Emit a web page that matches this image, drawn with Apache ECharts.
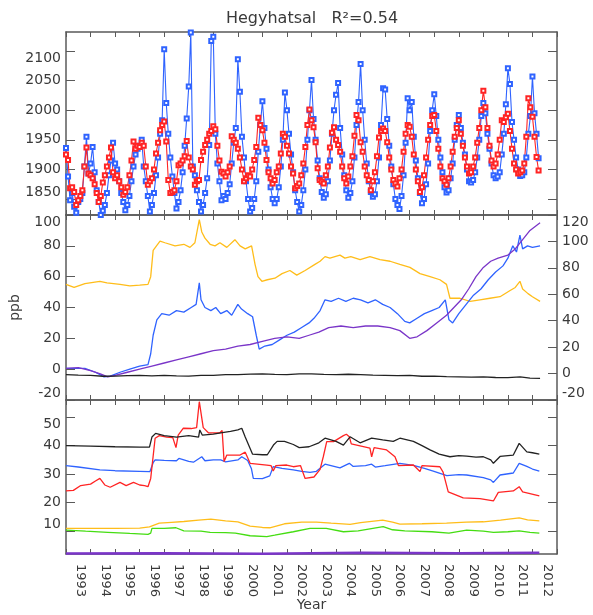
<!DOCTYPE html>
<html><head><meta charset="utf-8">
<script src="https://cdn.jsdelivr.net/npm/echarts@6/dist/echarts.min.js"></script>
<style>html,body{margin:0;padding:0;background:#fff}#c{width:593px;height:615px}</style>
</head><body><div id="c"></div>
<script>
// ---------- data ----------
const titleText = 'Hegyhatsal   R\u00b2=0.54';
const startYear = 1992;            // first monthly value = Jan 1992
const yearTicks = [1993,1994,1995,1996,1997,1998,1999,2000,2001,2002,2003,2004,2005,2006,2007,2008,2009,2010,2011,2012];
const topTicks = [1850,1900,1950,2000,2050,2100];
const botTicks = [10,20,30,40,50];

// top panel: monthly CH4 (blue = observed, red = model)
const blueMonthly = [
1936,1888,1848,1860,1837,1827,1845,1850,1860,1905,1955,1893,
1910,1938,1895,1865,1845,1823,1830,1840,1860,1890,1915,1945,
1910,1900,1880,1860,1845,1831,1840,1855,1880,1905,1925,1935,
1940,1950,1905,1880,1855,1829,1840,1860,1890,1920,1960,1983,
2103,2012,1960,1920,1888,1860,1834,1845,1865,1895,1940,1986,
2040,2131,1905,1890,1865,1845,1829,1840,1860,1885,1941,2117,
2124,1960,1910,1880,1848,1855,1850,1860,1875,1910,1945,1970,
2086,2031,1955,1920,1880,1850,1829,1835,1850,1880,1930,1975,
2015,1970,1935,1900,1870,1850,1843,1850,1870,1905,1950,2030,
2000,1960,1925,1895,1865,1845,1829,1840,1865,1900,1950,2000,
2051,1985,1950,1915,1885,1862,1852,1858,1880,1915,1960,2000,
2026,2046,1970,1925,1890,1865,1852,1860,1880,1920,1975,2014,
2078,2000,1950,1910,1880,1862,1854,1858,1880,1920,1975,2037,
2035,1985,1940,1905,1875,1850,1840,1833,1855,1890,1945,2020,
2000,2014,1955,1915,1885,1860,1843,1850,1875,1910,1965,2000,
2027,1990,1950,1920,1895,1870,1861,1865,1885,1910,1950,1975,
1992,1970,1945,1925,1900,1880,1878,1882,1895,1920,1950,1990,
2012,1995,1960,1935,1910,1890,1885,1888,1895,1925,1960,2010,
2071,2044,1980,1950,1920,1900,1889,1890,1895,1920,1960,1990,
2057,1995,1960,1919];
const redMonthly = [
1925,1916,1868,1870,1862,1840,1848,1855,1865,1905,1937,1893,
1890,1885,1875,1860,1845,1855,1878,1890,1905,1920,1937,1895,
1885,1890,1880,1870,1857,1862,1870,1890,1915,1947,1935,1940,
1938,1945,1940,1905,1874,1880,1885,1900,1927,1945,1966,1975,
1981,1947,1882,1860,1862,1865,1880,1907,1910,1915,1922,1948,
1920,1905,1900,1874,1880,1882,1916,1930,1941,1950,1960,1965,
1973,1968,1940,1915,1896,1893,1888,1895,1905,1956,1950,1945,
1935,1920,1900,1880,1885,1890,1888,1900,1916,1938,1987,1975,
1966,1945,1916,1895,1885,1876,1882,1895,1905,1927,1960,1955,
1940,1927,1905,1893,1868,1872,1876,1890,1910,1938,1975,2001,
1983,1971,1946,1902,1882,1879,1876,1890,1905,1937,1962,1971,
1950,1941,1930,1905,1885,1876,1888,1905,1922,1957,1992,1983,
1946,1930,1905,1890,1882,1865,1880,1895,1922,1954,1965,1969,
1965,1946,1920,1900,1882,1876,1871,1885,1900,1930,1960,1975,
1972,1955,1925,1900,1880,1862,1870,1890,1920,1950,1975,1990,
1992,1965,1935,1905,1885,1880,1874,1885,1905,1930,1955,1970,
1983,1960,1940,1920,1905,1893,1895,1905,1920,1945,1970,2000,
2033,2005,1970,1940,1915,1905,1910,1925,1950,1983,1980,1988,
1994,1965,1935,1910,1900,1893,1895,1898,1910,1955,2020,2005,
1989,1955,1921,1898];

// middle panel (ppb), [year, value]
const midYellow = [[1992.0,55],[1992.33,53],[1992.77,55.5],[1993.38,57],[1993.67,56],[1994.2,55],[1994.6,54],[1995.0,54.5],[1995.34,55],[1995.45,60],[1995.55,77],[1995.83,83],[1996.03,82],[1996.44,80],[1996.8,81],[1997.05,79],[1997.25,82],[1997.43,97],[1997.53,89],[1997.66,85],[1997.87,81],[1998.07,80],[1998.27,82],[1998.55,79],[1998.88,84],[1999.09,80],[1999.3,78],[1999.56,80],[1999.7,68],[1999.82,60],[1999.98,57],[2000.2,58],[2000.51,59],[2000.8,62],[2001.12,64],[2001.4,61],[2001.74,64],[2002.14,68],[2002.35,70],[2002.55,73],[2002.75,72],[2003.16,74],[2003.36,72],[2003.6,73],[2003.98,71],[2004.38,73],[2004.79,71],[2005.2,70],[2005.6,68],[2006.01,66],[2006.42,62],[2006.83,60],[2007.23,58],[2007.5,55],[2007.64,46],[2008.05,46],[2008.46,44],[2008.86,45],[2009.27,46],[2009.68,47],[2010.09,51],[2010.3,53],[2010.49,57],[2010.6,52],[2010.82,49],[2011.0,47],[2011.31,44]];
const midBlue = [[1992.0,0.5],[1992.4,0.5],[1992.77,0.5],[1993.2,-2],[1993.55,-5],[1993.8,-4.5],[1994.2,-2],[1994.6,0],[1995.0,2],[1995.34,3],[1995.45,10],[1995.55,22],[1995.7,32],[1995.9,36],[1996.2,35],[1996.5,38],[1996.8,37],[1997.1,40],[1997.3,42],[1997.43,56],[1997.5,45],[1997.66,40],[1997.9,38],[1998.1,40],[1998.3,36],[1998.55,38],[1998.75,35],[1999.0,42],[1999.15,39],[1999.4,36],[1999.6,34],[1999.75,22],[1999.87,13],[2000.1,15],[2000.4,16],[2000.7,19],[2001.0,22],[2001.3,24],[2001.6,27],[2001.9,30],[2002.1,33],[2002.35,38],[2002.55,45],[2002.8,44],[2003.1,46],[2003.4,44],[2003.7,46],[2004.0,45],[2004.3,43],[2004.6,45],[2004.9,42],[2005.2,40],[2005.5,36],[2005.8,31],[2006.0,30],[2006.3,33],[2006.6,36],[2006.9,38],[2007.2,40],[2007.45,45],[2007.6,32],[2007.75,30],[2008.0,36],[2008.3,42],[2008.6,48],[2008.9,52],[2009.2,58],[2009.5,63],[2009.8,67],[2010.0,72],[2010.2,80],[2010.35,76],[2010.49,87],[2010.6,78],[2010.8,80],[2011.0,79],[2011.31,80]];
const midPurple = [[1992.0,0.5],[1992.5,1],[1993.0,-1],[1993.4,-3],[1993.7,-5],[1994.0,-4],[1994.5,-2],[1995.0,0],[1995.5,2],[1996.0,4],[1996.5,6],[1997.0,8],[1997.5,10],[1998.0,12],[1998.5,13],[1999.0,15],[1999.5,16],[2000.0,18],[2000.5,20],[2001.0,21],[2001.5,20],[2001.9,22],[2002.3,24],[2002.7,27],[2003.2,28],[2003.7,27],[2004.2,28],[2004.7,28],[2005.2,27],[2005.6,25],[2006.0,20],[2006.3,21],[2006.7,25],[2007.1,30],[2007.5,35],[2007.8,40],[2008.1,45],[2008.4,52],[2008.7,60],[2009.0,66],[2009.3,70],[2009.6,72],[2010.0,74],[2010.3,78],[2010.6,84],[2010.9,90],[2011.31,95]];
const midBlack = [[1992.0,-3.5],[1992.5,-3.8],[1993.0,-4],[1993.5,-4.6],[1994.0,-4.5],[1994.5,-4.2],[1995.0,-4],[1995.5,-4.3],[1996.0,-4],[1996.5,-4.4],[1997.0,-4.5],[1997.5,-4],[1998.0,-4],[1998.5,-3.6],[1999.0,-3.5],[1999.5,-3.2],[2000.0,-3],[2000.5,-3.4],[2001.0,-3.5],[2001.5,-3],[2002.0,-3],[2002.5,-3.4],[2003.0,-3.5],[2003.5,-3.3],[2004.0,-3.5],[2004.5,-3.8],[2005.0,-4],[2005.5,-4.2],[2006.0,-4],[2006.5,-4.6],[2007.0,-4.5],[2007.5,-4.8],[2008.0,-5],[2008.5,-5.2],[2009.0,-5],[2009.5,-5.4],[2010.0,-5.5],[2010.5,-5],[2010.9,-5.8],[2011.31,-6]];

// bottom panel, [year, value]
const botBlack = [[1992.0,40],[1993.0,39.8],[1994.0,39.6],[1995.0,39.5],[1995.4,39.5],[1995.5,43],[1995.65,44.3],[1996.0,43.5],[1996.5,43],[1997.0,43.5],[1997.4,43],[1997.45,45.5],[1997.55,43.7],[1998.0,44],[1998.3,44.5],[1998.7,45],[1999.0,45.5],[1999.16,46.1],[1999.3,43],[1999.5,39],[1999.6,37],[2000.0,36.8],[2000.2,36.8],[2000.45,40.2],[2000.6,41.5],[2000.9,41.5],[2001.26,40.4],[2001.5,39.3],[2001.9,39.6],[2002.3,41],[2002.55,42.6],[2003.0,41.5],[2003.3,40.2],[2003.57,43.1],[2003.98,41],[2004.45,42.6],[2004.9,42],[2005.33,41.5],[2005.6,42.6],[2006.15,41.5],[2006.5,40],[2006.83,38.5],[2007.2,37],[2007.64,36.1],[2008.0,36.5],[2008.32,36.3],[2008.7,36],[2009.0,36.1],[2009.3,35],[2009.41,33.8],[2009.68,36.2],[2010.22,36.7],[2010.46,40.8],[2010.77,37.8],[2011.0,37.5],[2011.28,37.0]];
const botBlue = [[1992.0,33],[1992.5,32.5],[1993.38,31.5],[1994.0,31.2],[1995.0,31],[1995.42,30.9],[1995.55,34],[1995.63,35],[1996.0,34.8],[1996.5,34.7],[1996.6,35.5],[1997.0,34.5],[1997.19,34.2],[1997.53,36.1],[1997.66,34.7],[1998.0,35],[1998.3,35],[1998.5,34.3],[1999.0,35],[1999.16,36.1],[1999.4,34.8],[1999.55,32],[1999.63,28.5],[2000.0,28.4],[2000.3,29.4],[2000.44,32.6],[2000.8,32],[2001.26,31.5],[2001.6,31],[2001.94,30.6],[2002.2,31],[2002.55,33.5],[2003.16,32.2],[2003.54,33.8],[2003.7,32.7],[2004.2,33],[2004.45,33.5],[2004.6,32.5],[2005.0,33],[2005.6,33.8],[2006.15,33.1],[2006.6,32],[2006.96,31.1],[2007.51,29.5],[2008.0,29.8],[2008.32,29.7],[2009.0,28.8],[2009.3,28],[2009.41,27.1],[2009.68,29.7],[2010.22,30.4],[2010.46,33.8],[2010.77,32.7],[2011.0,31.8],[2011.28,31.1]];
const botRed = [[1992.0,24.1],[1992.3,24.3],[1992.6,26],[1993.0,26.5],[1993.2,27.6],[1993.38,28.5],[1993.58,26.2],[1993.8,25.4],[1994.2,27.1],[1994.45,26],[1994.75,27.1],[1995.0,26.2],[1995.2,26],[1995.34,25.6],[1995.45,28.5],[1995.63,42.6],[1995.8,43.5],[1996.1,43],[1996.35,42.8],[1996.48,39.3],[1996.57,43.7],[1996.78,46.1],[1997.1,46],[1997.32,46.3],[1997.43,55.4],[1997.48,55],[1997.59,46.3],[1997.8,44.5],[1998.27,44.5],[1998.36,45.3],[1998.44,34.4],[1998.55,36.7],[1999.09,36.7],[1999.3,37.7],[1999.5,33.8],[2000.18,33.2],[2000.35,33],[2000.44,31.1],[2000.55,33],[2000.99,33.2],[2001.26,32.6],[2001.55,33],[2001.74,28.5],[2001.8,28.1],[2002.1,29],[2002.35,31.7],[2002.48,36.1],[2002.62,41.4],[2002.9,41.4],[2003.3,43.5],[2003.42,44],[2003.54,43.1],[2003.62,40.6],[2004.38,39.1],[2004.45,36.1],[2004.55,39.3],[2005.06,38.5],[2005.4,36.1],[2005.54,33],[2006.15,33.2],[2006.42,30.9],[2006.5,33],[2007.23,32.6],[2007.36,30.7],[2007.57,23.8],[2008.18,21.7],[2008.86,21.4],[2009.41,20.6],[2009.61,23.6],[2010.22,24.1],[2010.46,25.6],[2010.6,23.8],[2011.28,22.4]];
const botYellow = [[1992.0,11.0],[1993.0,11.0],[1994.0,11.0],[1995.0,11.1],[1995.4,11.5],[1995.8,12.8],[1996.3,13.1],[1996.8,13.4],[1997.4,13.9],[1997.9,14.2],[1998.5,13.6],[1999.0,13.3],[1999.5,11.8],[2000.0,11.3],[2000.3,11.2],[2000.9,12.6],[2001.6,13.2],[2002.2,13.2],[2002.8,12.8],[2003.57,12.4],[2004.0,13],[2004.9,13.9],[2005.3,13.2],[2005.6,12.5],[2006.5,12.6],[2007.5,12.8],[2008.3,13.2],[2009.0,13.3],[2009.7,13.9],[2010.46,14.7],[2010.8,14],[2011.28,13.6]];
const botGreen = [[1992.0,10.4],[1992.8,10],[1993.7,9.6],[1994.6,9.2],[1995.34,8.9],[1995.45,9.3],[1995.5,11.0],[1996.0,11],[1996.48,11.2],[1996.8,10.1],[1997.5,10],[1997.87,9.6],[1998.5,9.5],[1998.9,9.3],[1999.5,8.4],[2000.18,8.1],[2000.5,8.6],[2001.26,9.8],[2001.94,11.0],[2002.6,11.0],[2003.3,9.8],[2003.9,10.1],[2004.5,11],[2004.92,11.6],[2005.3,10.5],[2005.8,10.1],[2006.9,9.8],[2007.6,9.3],[2008.32,10.4],[2009.0,10],[2009.41,9.6],[2010.0,9.8],[2010.46,10.1],[2010.9,9.6],[2011.28,9.3]];
const botPurple = [[1992.0,2.2],[1996.0,2.3],[2000.0,2.1],[2004.0,2.4],[2008.0,2.3],[2011.28,2.4]];

// ---------- chart ----------
const FONT = 'DejaVu Sans';
const TXT = '#3a3a3a';
const AX = '#5a5a5a';
const C = {blue:'#2f63ff', red:'#ff2424', yellow:'#ffbd1a', purple:'#7a35c8', green:'#45dd12', black:'#222222'};

const monthly = arr => arr.map((v, i) => [startYear + i / 12, v]);

const grids = [
  {left:66, right:36, top:32, height:183},
  {left:66, right:36, top:215, height:185},
  {left:66, right:36, top:400, height:154},
  // label-only grid: year labels sit ~10px left of their ticks in the reference
  {left:56, right:46, top:400, height:154}
];

const axisLine = {show:true, onZero:false, lineStyle:{color:AX, width:1.5}};
const xAxes = [];
[0,1,2].forEach(gi => {
  ['bottom','top'].forEach(pos => {
    const named = gi === 2 && pos === 'bottom';
    xAxes.push({
      type:'value', gridIndex:gi, position:pos, min:1992, max:2012, interval:1,
      axisLine, splitLine:{show:false},
      axisTick:{show:true, inside:true, length:5, lineStyle:{color:AX, width:1}},
      axisLabel:{show:false},
      name: named ? 'Year' : '', nameLocation:'middle', nameGap:44,
      nameTextStyle:{fontFamily:FONT, fontSize:14, color:TXT}
    });
  });
});
xAxes.push({
  type:'value', gridIndex:3, position:'bottom', min:1992, max:2012, interval:1,
  axisLine:{show:false}, axisTick:{show:false}, splitLine:{show:false},
  axisLabel:{show:true, rotate:-90, margin:10, fontFamily:FONT, fontSize:13, color:TXT,
    formatter: v => yearTicks.indexOf(v) >= 0 ? String(v) : ''}
});

const yTick = {show:true, inside:true, length:9, lineStyle:{color:AX, width:1}};
const yLab = (show) => ({show, fontFamily:FONT, fontSize:14, color:TXT, margin:5,
  formatter: v => String(v),
  verticalAlignMaxLabel:'top', verticalAlignMinLabel:'bottom'});
const yAxes = [
  {type:'value', gridIndex:0, position:'left', min:1823, max:2132, axisLine, splitLine:{show:false},
   axisTick:Object.assign({}, yTick, {customValues:topTicks}), axisLabel:Object.assign(yLab(true), {customValues:topTicks})},
  {type:'value', gridIndex:0, position:'right', min:1823, max:2132, axisLine, splitLine:{show:false},
   axisTick:Object.assign({}, yTick, {customValues:topTicks}), axisLabel:{show:false}},
  {type:'value', gridIndex:1, position:'left', min:-20, max:100, interval:20, axisLine, splitLine:{show:false},
   axisTick:yTick, axisLabel:yLab(true),
   name:'ppb', nameLocation:'middle', nameRotate:90, nameGap:44,
   nameTextStyle:{fontFamily:FONT, fontSize:14, color:TXT}},
  {type:'value', gridIndex:1, position:'right', min:-20, max:120, interval:20, axisLine, splitLine:{show:false},
   axisTick:yTick, axisLabel:yLab(true)},
  {type:'value', gridIndex:2, position:'left', min:2, max:56, axisLine, splitLine:{show:false},
   axisTick:Object.assign({}, yTick, {customValues:botTicks}), axisLabel:Object.assign(yLab(true), {customValues:botTicks})},
  {type:'value', gridIndex:2, position:'right', min:2, max:56, axisLine, splitLine:{show:false},
   axisTick:Object.assign({}, yTick, {customValues:botTicks}), axisLabel:{show:false}},
  {type:'value', gridIndex:3, min:0, max:1, show:false}
];

function line(data, color, xi, yi, opts) {
  return Object.assign({
    type:'line', data, xAxisIndex:xi, yAxisIndex:yi, showSymbol:false, symbol:'none',
    lineStyle:{color, width:1.3}, itemStyle:{color}, animation:false, silent:true, z:2
  }, opts || {});
}
const markerOpts = (color) => ({showSymbol:true, symbol:'emptyRect', symbolSize:4,
  itemStyle:{color, borderColor:color, borderWidth:1}, lineStyle:{color, width:1.1}});

const series = [
  line(monthly(blueMonthly), C.blue, 0, 0, markerOpts(C.blue)),
  line(monthly(redMonthly), C.red, 0, 0, markerOpts(C.red)),
  line(midYellow, C.yellow, 2, 2),
  line(midBlue, C.blue, 2, 2),
  line(midPurple, C.purple, 2, 2),
  line(midBlack, C.black, 2, 2),
  line(botPurple, C.purple, 4, 4, {lineStyle:{color:C.purple, width:2.5}}),
  line(botGreen, C.green, 4, 4),
  line(botYellow, C.yellow, 4, 4),
  line(botBlue, C.blue, 4, 4),
  line(botRed, C.red, 4, 4),
  line(botBlack, C.black, 4, 4)
];

const chart = echarts.init(document.getElementById('c'), null, {renderer:'canvas'});
chart.setOption({
  animation:false,
  backgroundColor:'#ffffff',
  title:{text:titleText, left:312, top:11, padding:0, textAlign:'center',
    textStyle:{fontFamily:FONT, fontSize:16, fontWeight:'normal', color:TXT}},
  grid:grids,
  xAxis:xAxes,
  yAxis:yAxes,
  series
});
</script></body></html>
